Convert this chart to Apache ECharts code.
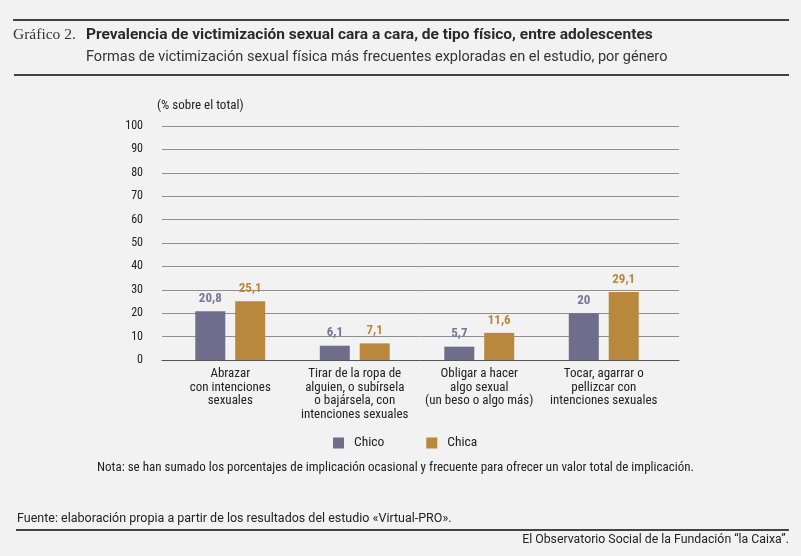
<!DOCTYPE html>
<html>
<head>
<meta charset="utf-8">
<script src="https://cdn.jsdelivr.net/npm/echarts@6/dist/echarts.min.js"></script>
<style>
  html, body { margin: 0; padding: 0; background: #f2f2f2; }
  #main { width: 801px; height: 556px; }
</style>
</head>
<body>
<div id="main"></div>
<script>
var categories = [
  "Abrazar\ncon intenciones\nsexuales",
  "Tirar de la ropa de\nalguien, o subírsela\no bajársela, con\nintenciones sexuales",
  "Obligar a hacer\nalgo sexual\n(un beso o algo más)",
  "Tocar, agarrar o\npellizcar con\nintenciones sexuales"
];
var chico = [20.8, 6.1, 5.7, 20];
var chica = [25.1, 7.1, 11.6, 29.1];

var COND = "'Roboto Condensed', 'Liberation Sans Narrow', sans-serif";
var REG = "Roboto, 'Liberation Sans', sans-serif";
var colChico = "#6e6e8c";
var colChica = "#b8893c";

var dom = document.getElementById("main");
var myChart = echarts.init(dom, null, { renderer: "canvas" });

function fmt(p) {
  return String(p.value).replace(".", ",");
}

// grid 0 carries the gridlines and the axis line, grid 1 the bars (narrower, as in the original)
var option = {
  backgroundColor: "#f2f2f2",
  textStyle: { fontFamily: COND },
  grid: [
    { left: 162, right: 122, top: 126, bottom: 196 },
    { left: 168, right: 135, top: 126, bottom: 196 }
  ],
  legend: {
    data: ["Chico", "Chica"],
    left: 328,
    top: 431,
    itemWidth: 11,
    itemHeight: 11,
    itemGap: 42,
    icon: "rect",
    textStyle: { fontSize: 13.5, color: "#222", fontFamily: COND, padding: [0, 0, 0, 5] }
  },
  xAxis: [
    {
      type: "category",
      gridIndex: 0,
      data: categories,
      axisTick: { show: false },
      axisLabel: { show: false },
      axisLine: { lineStyle: { color: "#555", width: 1 } }
    },
    {
      type: "category",
      gridIndex: 1,
      data: categories,
      axisTick: { show: false },
      axisLine: { show: false },
      axisLabel: { color: "#222", fontSize: 13, lineHeight: 13.5, margin: 7, interval: 0, fontFamily: COND }
    }
  ],
  yAxis: [
    {
      type: "value",
      gridIndex: 0,
      min: 0,
      max: 100,
      interval: 10,
      axisLine: { show: false },
      axisTick: { show: false },
      axisLabel: { color: "#222", fontSize: 12, margin: 19, fontFamily: COND },
      splitLine: { lineStyle: { color: "#8f8f8f", width: 1 } }
    },
    {
      type: "value",
      gridIndex: 1,
      min: 0,
      max: 100,
      interval: 10,
      show: false,
      splitLine: { show: false }
    }
  ],
  series: [
    {
      name: "Chico",
      type: "bar",
      xAxisIndex: 1,
      yAxisIndex: 1,
      data: chico,
      barWidth: 30,
      barGap: "33%",
      itemStyle: { color: colChico },
      label: { show: true, position: "top", distance: 6, color: "#76769a", fontSize: 13, fontWeight: "bold", formatter: fmt, fontFamily: COND }
    },
    {
      name: "Chica",
      type: "bar",
      xAxisIndex: 1,
      yAxisIndex: 1,
      data: chica,
      barWidth: 30,
      barGap: "33%",
      itemStyle: { color: colChica },
      label: { show: true, position: "top", distance: 6, color: colChica, fontSize: 13, fontWeight: "bold", formatter: fmt, fontFamily: COND }
    }
  ],
  graphic: [
    { type: "rect", shape: { x: 13, y: 19, width: 776, height: 2 }, style: { fill: "#444" } },
    { type: "rect", shape: { x: 14, y: 74, width: 775, height: 2 }, style: { fill: "#444" } },
    { type: "rect", shape: { x: 16, y: 529, width: 773, height: 2 }, style: { fill: "#444" } },
    { type: "text", left: 13, top: 27, style: { text: "Gráfico 2.", font: "15.5px 'Liberation Serif', serif", fill: "#333" } },
    { type: "text", left: 86, top: 27, style: { text: "Prevalencia de victimización sexual cara a cara, de tipo físico, entre adolescentes", font: "bold 15.5px " + REG, fill: "#2a2a2a" } },
    { type: "text", left: 86, top: 50, style: { text: "Formas de victimización sexual física más frecuentes exploradas en el estudio, por género", font: "14.5px " + REG, fill: "#333" } },
    { type: "text", left: 157, top: 99, style: { text: "(% sobre el total)", font: "13px " + COND, fill: "#222" } },
    { type: "text", left: 97, top: 461, style: { text: "Nota: se han sumado los porcentajes de implicación ocasional y frecuente para ofrecer un valor total de implicación.", font: "13px " + COND, fill: "#222" } },
    { type: "text", left: 17, top: 512, style: { text: "Fuente: elaboración propia a partir de los resultados del estudio «Virtual-PRO».", font: "12.5px " + REG, fill: "#222" } },
    { type: "text", right: 12, top: 534, style: { text: "El Observatorio Social de la Fundación “la Caixa”.", font: "12.3px " + REG, fill: "#222" } }
  ]
};

myChart.setOption(option);
</script>
</body>
</html>
